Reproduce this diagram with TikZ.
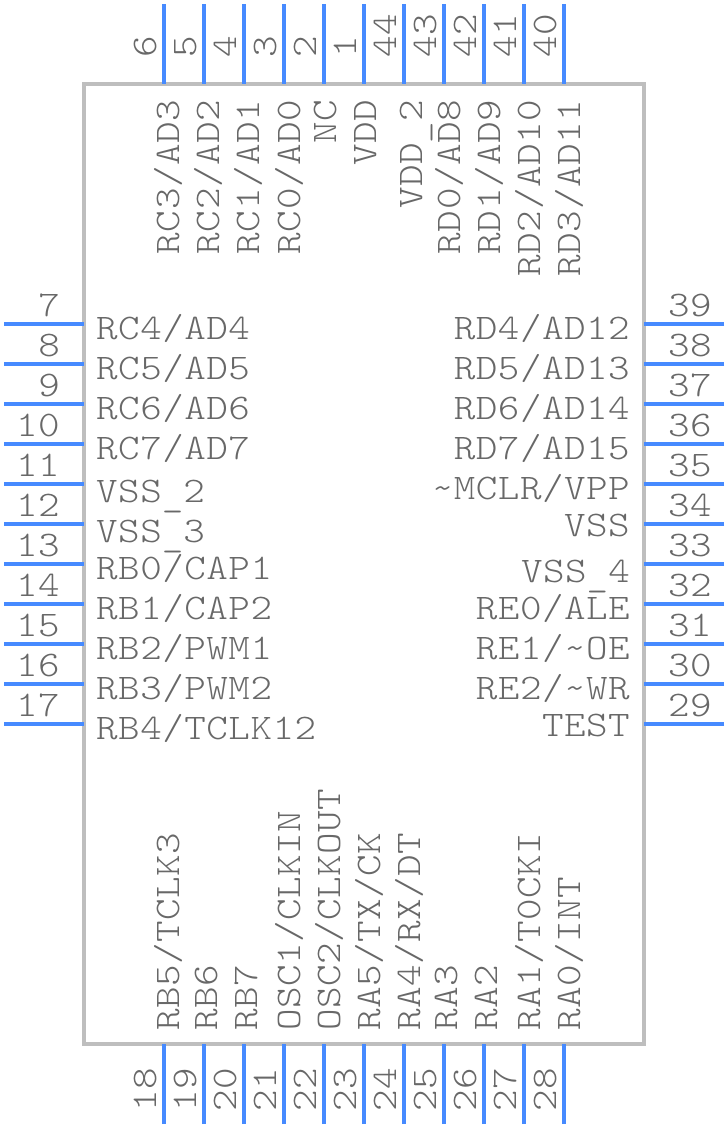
\documentclass[tikz,border=0pt]{standalone}
\usepackage{fontspec}
\setmonofont[FakeStretch=1.14, LetterSpace=1.4]{Latin Modern Mono Light}
\definecolor{pinblue}{RGB}{70,138,255}
\definecolor{bodygray}{RGB}{190,190,190}
\definecolor{textgray}{RGB}{104,104,104}
\newcommand{\lowbar}{\raisebox{-4pt}{\_}}
\tikzset{
    pinline/.style={pinblue, line width=4pt},
    bodybox/.style={draw=bodygray, line width=4pt},
    pinnum/.style={textgray, font=\fontsize{36}{36}\ttfamily, inner sep=0pt},
    pinname/.style={textgray, font=\fontsize{36}{36}\ttfamily, inner sep=0pt},
}
\begin{document}
\begin{tikzpicture}[x=1pt, y=-1pt]
    \useasboundingbox (0, 0) rectangle (728, 1128);

    % Package outline
    \coordinate (bodyA) at (84, 84);
    \coordinate (bodyB) at (644, 1044);
    \draw[bodybox] (bodyA) rectangle (bodyB);

    % Top pins
    \foreach \n/\x in {6/164, 5/204, 4/244, 3/284, 2/324, 1/364, 44/404, 43/444, 42/484, 41/524, 40/564} {
        \coordinate (pin\n a) at (\x, 4);
        \coordinate (pin\n b) at (\x, 84);
        \draw[pinline] (pin\n a) -- (pin\n b);
        \node[pinnum, rotate=90, anchor=base west] (num\n) at (\x-8, 58) {\n};
    }

    % Left pins
    \foreach \n/\y in {7/324, 8/364, 9/404, 10/444, 11/484, 12/524, 13/564, 14/604, 15/644, 16/684, 17/724} {
        \coordinate (pin\n a) at (4, \y);
        \coordinate (pin\n b) at (84, \y);
        \draw[pinline] (pin\n a) -- (pin\n b);
        \node[pinnum, anchor=base east] (num\n) at (60, \y-8) {\n};
    }

    % Bottom pins
    \foreach \n/\x in {18/164, 19/204, 20/244, 21/284, 22/324, 23/364, 24/404, 25/444, 26/484, 27/524, 28/564} {
        \coordinate (pin\n a) at (\x, 1124);
        \coordinate (pin\n b) at (\x, 1044);
        \draw[pinline] (pin\n a) -- (pin\n b);
        \node[pinnum, rotate=90, anchor=base east] (num\n) at (\x-8, 1068) {\n};
    }

    % Right pins
    \foreach \n/\y in {39/324, 38/364, 37/404, 36/444, 35/484, 34/524, 33/564, 32/604, 31/644, 30/684, 29/724} {
        \coordinate (pin\n a) at (724, \y);
        \coordinate (pin\n b) at (644, \y);
        \draw[pinline] (pin\n a) -- (pin\n b);
        \node[pinnum, anchor=base west] (num\n) at (668, \y-8) {\n};
    }

    % Names on the left
    \foreach \n/\y/\t in {7/339/{RC4/AD4}, 8/379/{RC5/AD5}, 9/419/{RC6/AD6}, 10/459/{RC7/AD7}, 11/502/{VSS\lowbar 2}, 12/542/{VSS\lowbar 3}, 13/579/{RB0/CAP1}, 14/619/{RB1/CAP2}, 15/659/{RB2/PWM1}, 16/699/{RB3/PWM2}, 17/739/{RB4/TCLK12}}
        \node[pinname, anchor=base west] (name\n) at (96, \y) {\t};

    % Names on the right
    \foreach \n/\y/\t in {39/339/{RD4/AD12}, 38/379/{RD5/AD13}, 37/419/{RD6/AD14}, 36/459/{RD7/AD15}, 35/499/{\char`\~MCLR/VPP}, 34/536/{VSS}, 33/582/{VSS\lowbar 4}, 32/619/{RE0/ALE}, 31/659/{RE1/\char`\~OE}, 30/699/{RE2/\char`\~WR}, 29/736/{TEST}}
        \node[pinname, anchor=base east] (name\n) at (630, \y) {\t};

    % Names on top
    \foreach \n/\x/\t in {6/179/{RC3/AD3}, 5/219/{RC2/AD2}, 4/259/{RC1/AD1}, 3/300/{RC0/AD0}, 2/336/{NC}, 1/376/{VDD}, 44/422/{VDD\lowbar 2}, 43/460/{RD0/AD8}, 42/500/{RD1/AD9}, 41/540/{RD2/AD10}, 40/580/{RD3/AD11}}
        \node[pinname, rotate=90, anchor=base east] (name\n) at (\x, 100) {\t};

    % Names at the bottom
    \foreach \n/\x/\t in {18/179/{RB5/TCLK3}, 19/217/{RB6}, 20/257/{RB7}, 21/300/{OSC1/CLKIN}, 22/340/{OSC2/CLKOUT}, 23/380/{RA5/TX/CK}, 24/420/{RA4/RX/DT}, 25/457/{RA3}, 26/497/{RA2}, 27/540/{RA1/T0CKI}, 28/580/{RA0/INT}}
        \node[pinname, rotate=90, anchor=base west] (name\n) at (\x, 1031) {\t};
\end{tikzpicture}
\end{document}
